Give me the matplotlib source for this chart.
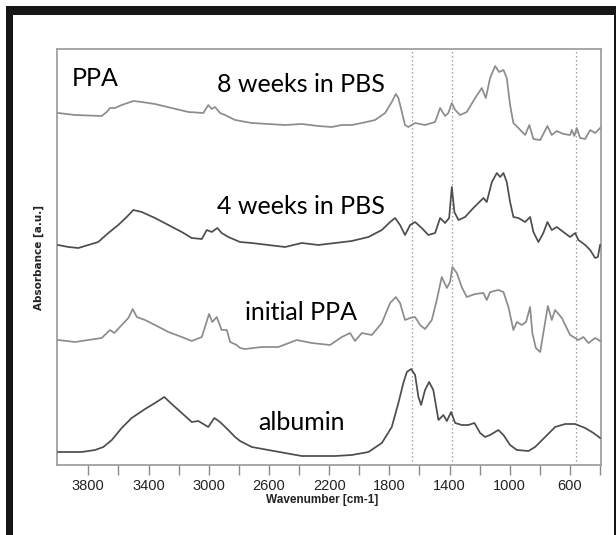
import matplotlib
matplotlib.use("Agg")
import matplotlib.pyplot as plt
from matplotlib.patches import Rectangle

# ---------------- data ----------------
wn_8w = [4000, 3888, 3711, 3678, 3656, 3623, 3578, 3501, 3445, 3357, 3246, 3135, 3036, 3003, 2980,
         2958, 2925, 2892, 2825, 2714, 2604, 2493, 2382, 2272, 2183, 2116, 2050, 1983, 1895, 1828,
         1784, 1757, 1740, 1717, 1696, 1674, 1629, 1596, 1563, 1496, 1463, 1430, 1408, 1385, 1363,
         1330, 1286, 1230, 1186, 1159, 1131, 1097, 1071, 1042, 1020, 998, 976, 943, 898, 870, 843,
         798, 750, 721, 688, 644, 599, 588, 571, 555, 533, 499, 466, 433, 400]
abs_8w = [3.52, 3.50, 3.49, 3.53, 3.57, 3.57, 3.60, 3.64, 3.63, 3.61, 3.57, 3.53, 3.52, 3.60, 3.56,
          3.58, 3.52, 3.50, 3.45, 3.42, 3.41, 3.40, 3.41, 3.39, 3.38, 3.40, 3.40, 3.42, 3.45, 3.52,
          3.63, 3.71, 3.67, 3.53, 3.40, 3.38, 3.42, 3.41, 3.40, 3.43, 3.57, 3.49, 3.52, 3.62, 3.55,
          3.50, 3.53, 3.67, 3.77, 3.67, 3.87, 3.99, 3.93, 3.95, 3.87, 3.60, 3.42, 3.37, 3.30, 3.40, 3.26,
          3.25, 3.39, 3.30, 3.34, 3.31, 3.30, 3.35, 3.29, 3.37, 3.27, 3.26, 3.35, 3.32, 3.37]

wn_4w = [4000, 3933, 3866, 3800, 3734, 3667, 3601, 3545, 3501, 3445, 3357, 3268, 3179, 3113, 3046,
         3013, 2980, 2943, 2914, 2870, 2792, 2714, 2604, 2493, 2382, 2272, 2161, 2050, 1939, 1850,
         1795, 1762, 1729, 1696, 1662, 1629, 1585, 1541, 1496, 1463, 1430, 1403, 1385, 1368, 1341,
         1297, 1242, 1175, 1153, 1119, 1086, 1064, 1042, 1020, 998, 976, 943, 898, 865, 843, 810,
         777, 750, 721, 688, 644, 599, 566, 544, 499, 466, 433, 415, 400]
abs_4w = [2.20, 2.18, 2.17, 2.20, 2.23, 2.32, 2.40, 2.48, 2.55, 2.53, 2.47, 2.40, 2.33, 2.27, 2.26,
          2.35, 2.33, 2.37, 2.32, 2.28, 2.23, 2.22, 2.20, 2.18, 2.22, 2.20, 2.22, 2.24, 2.28, 2.35,
          2.43, 2.47, 2.40, 2.30, 2.40, 2.43, 2.37, 2.30, 2.32, 2.47, 2.42, 2.47, 2.78, 2.53, 2.45,
          2.48, 2.57, 2.67, 2.63, 2.83, 2.92, 2.88, 2.92, 2.83, 2.63, 2.48, 2.47, 2.43, 2.48, 2.33, 2.23,
          2.32, 2.43, 2.35, 2.38, 2.33, 2.28, 2.32, 2.25, 2.20, 2.15, 2.07, 2.08, 2.20]

wn_init = [4000, 3888, 3800, 3711, 3656, 3627, 3578, 3534, 3505, 3478, 3423, 3357, 3268, 3179, 3113,
           3046, 2998, 2976, 2947, 2914, 2880, 2858, 2814, 2792, 2759, 2648, 2537, 2415, 2316, 2194,
           2116, 2061, 2028, 1983, 1917, 1850, 1795, 1757, 1729, 1696, 1662, 1629, 1596, 1563, 1518,
           1485, 1452, 1418, 1397, 1381, 1352, 1319, 1286, 1230, 1175, 1153, 1131, 1076, 1042, 1009,
           976, 953, 920, 892, 865, 850, 827, 798, 777, 747, 721, 699, 654, 599, 544, 511, 477, 433, 400]
abs_init = [1.25, 1.23, 1.25, 1.27, 1.35, 1.32, 1.40, 1.47, 1.56, 1.48, 1.45, 1.40, 1.33, 1.28, 1.24,
            1.28, 1.51, 1.43, 1.48, 1.35, 1.35, 1.23, 1.20, 1.17, 1.16, 1.18, 1.18, 1.25, 1.22, 1.20,
            1.28, 1.32, 1.24, 1.32, 1.30, 1.42, 1.62, 1.68, 1.62, 1.45, 1.47, 1.48, 1.40, 1.36, 1.45,
            1.65, 1.88, 1.77, 1.83, 1.98, 1.92, 1.78, 1.68, 1.71, 1.72, 1.65, 1.73, 1.75, 1.73, 1.58,
            1.35, 1.43, 1.40, 1.43, 1.58, 1.32, 1.17, 1.13, 1.32, 1.59, 1.45, 1.55, 1.47, 1.30, 1.25, 1.28,
            1.22, 1.27, 1.24]

wn_alb = [4000, 3844, 3755, 3700, 3644, 3578, 3512, 3423, 3357, 3295, 3246, 3179, 3113, 3069, 3003,
          2963, 2925, 2870, 2825, 2792, 2714, 2604, 2493, 2382, 2272, 2161, 2050, 1939, 1850, 1784,
          1740, 1707, 1684, 1656, 1629, 1607, 1589, 1563, 1536, 1508, 1474, 1441, 1418, 1390, 1363,
          1319, 1275, 1235, 1197, 1164, 1131, 1076, 1042, 998, 953, 876, 832, 765, 699, 632, 566,
          499, 444, 400]
abs_alb = [0.13, 0.13, 0.15, 0.18, 0.25, 0.37, 0.47, 0.56, 0.62, 0.68, 0.61, 0.52, 0.43, 0.44, 0.38,
           0.47, 0.43, 0.35, 0.28, 0.24, 0.18, 0.15, 0.12, 0.09, 0.09, 0.09, 0.10, 0.13, 0.22, 0.38,
           0.62, 0.82, 0.93, 0.96, 0.90, 0.68, 0.60, 0.75, 0.83, 0.75, 0.45, 0.50, 0.44, 0.53, 0.42,
           0.40, 0.40, 0.42, 0.32, 0.28, 0.30, 0.35, 0.30, 0.20, 0.15, 0.14, 0.18, 0.28, 0.38, 0.41, 0.41,
           0.37, 0.32, 0.27]

marker_lines = [1648, 1382, 562]
tick_values = [3800, 3600, 3400, 3200, 3000, 2800, 2600, 2400, 2200, 2000, 1800, 1600, 1400, 1200,
               1000, 800, 600, 400]
tick_labels = ["3800", "", "3400", "", "3000", "", "2600", "", "2200", "", "1800", "", "1400", "",
               "1000", "", "600", ""]

# ---------------- figure ----------------
W, H = 616, 535
fig = plt.figure(figsize=(W / 100, H / 100), dpi=100)
fig.patch.set_facecolor("white")

# black picture frame (cropped on the right and bottom)
def px_rect(x0, y0, x1, y1):
    return Rectangle((x0 / W, 1 - y1 / H), (x1 - x0) / W, (y1 - y0) / H,
                     transform=fig.transFigure, facecolor="#161616", edgecolor="none", zorder=0)

fig.patches.append(px_rect(6, 6, 616, 15))
fig.patches.append(px_rect(6, 6, 13, 535))
fig.patches.append(px_rect(614, 6, 616, 535))

ax = fig.add_axes([57 / W, 1 - 465 / H, 544 / W, 416 / H])

for xv in marker_lines:
    ax.axvline(xv, color="#9a9a9a", lw=0.9, ls=(0, (1.2, 2.0)), zorder=1)

line_kw = dict(lw=1.25, zorder=3, solid_joinstyle="round")
ax.plot(wn_8w, abs_8w, color="#8c8c8c", **line_kw)
ax.plot(wn_4w, abs_4w, color="#4d4d4d", **line_kw)
ax.plot(wn_init, abs_init, color="#8c8c8c", **line_kw)
ax.plot(wn_alb, abs_alb, color="#4d4d4d", **line_kw)

ax.set_xlim(4008, 394)
ax.set_ylim(0, 4.16)

for sp in ax.spines.values():
    sp.set_color("#a0a0a0")
    sp.set_linewidth(1.3)

ax.set_yticks([])
ax.set_xticks(tick_values)
ax.set_xticklabels(tick_labels, fontfamily="Liberation Sans", fontsize=10.5, color="#222222")
ax.tick_params(axis="x", direction="out", length=7, width=1.0, color="#8a8a8a", pad=3)

ax.set_xlabel("Wavenumber [cm-1]", fontfamily="Liberation Sans",
              fontweight="bold", fontsize=8.5, color="#222222", va="center")
ax.xaxis.set_label_coords((322 - 57) / 544, (465 - 500) / 416)
ax.set_ylabel("Absorbance [a.u.]", fontfamily="DejaVu Sans", fontweight="bold",
              fontsize=7.5, color="#222222", va="center")
ax.yaxis.set_label_coords((39 - 57) / 544, 0.5)

txt = dict(fontfamily="Lato", fontsize=18, color="black", va="baseline")
ax.text(3908, 3.79, "PPA", ha="left", **txt)
ax.text(2387, 3.73, "8 weeks in PBS", ha="center", **txt)
ax.text(2387, 2.51, "4 weeks in PBS", ha="center", **txt)
ax.text(2387, 1.45, "initial PPA", ha="center", **txt)
ax.text(2387, 0.35, "albumin", ha="center", **txt)

fig.savefig("out.png", dpi=100, facecolor="white")
